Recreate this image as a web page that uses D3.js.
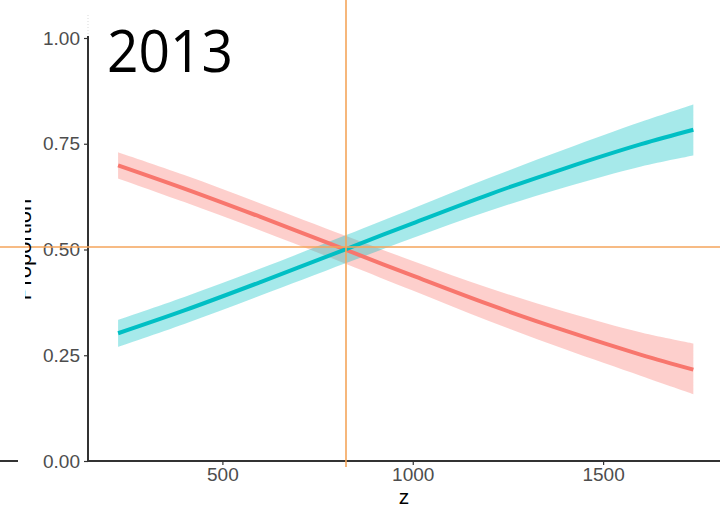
<!DOCTYPE html>
<html>
<head>
<meta charset="utf-8">
<script src="https://cdn.jsdelivr.net/npm/d3@7"></script>
<style>
  html, body { margin: 0; padding: 0; background: #fff; }
  svg { display: block; }
</style>
</head>
<body>
<svg id="chart" width="720" height="508"></svg>
<script>
// Predicted proportions with confidence ribbons for two groups along z
const zValues   = [226, 400, 600, 825, 1000, 1200, 1400, 1600, 1737];

const tealFit   = [0.302, 0.356, 0.423, 0.501, 0.562, 0.630, 0.692, 0.749, 0.783];
const tealLower = [0.270, 0.324, 0.391, 0.468, 0.527, 0.591, 0.647, 0.696, 0.722];
const tealUpper = [0.334, 0.388, 0.455, 0.534, 0.597, 0.669, 0.737, 0.802, 0.843];

const redFit    = [0.699, 0.644, 0.577, 0.499, 0.438, 0.370, 0.308, 0.251, 0.216];
const redLower  = [0.668, 0.612, 0.545, 0.466, 0.403, 0.331, 0.264, 0.201, 0.158];
const redUpper  = [0.730, 0.676, 0.609, 0.532, 0.473, 0.409, 0.353, 0.304, 0.278];

const yTicks = [0, 0.25, 0.5, 0.75, 1];
const yTickLabels = ["0.00", "0.25", "0.50", "0.75", "1.00"];
const xTicks = [500, 1000, 1500];

const refZ = 825;      // vertical reference line
const refP = 0.505;    // horizontal reference line
const panelTitle = "2013";

(function draw() {
  const svg = d3.select("#chart");
  const W = 720, H = 508;
  const mLeft = 88, mRight = 720, mTop = 38, mBottom = 461;

  const x = d3.scaleLinear().domain([147, 1807]).range([mLeft, mRight]);
  const y = d3.scaleLinear().domain([0, 1]).range([mBottom, mTop]);

  const series = [
    { fit: redFit,  lo: redLower,  hi: redUpper,  color: "#F8766D" },
    { fit: tealFit, lo: tealLower, hi: tealUpper, color: "#00BFC4" }
  ];

  const curve = d3.curveCatmullRom.alpha(0.5);
  const area = d3.area()
    .x(d => x(d.z)).y0(d => y(d.lo)).y1(d => y(d.hi))
    .curve(curve);
  const line = d3.line()
    .x(d => x(d.z)).y(d => y(d.v))
    .curve(curve);

  // ribbons
  series.forEach(s => {
    const rows = zValues.map((z, i) => ({ z, lo: s.lo[i], hi: s.hi[i] }));
    svg.append("path").datum(rows)
      .attr("d", area)
      .attr("fill", s.color)
      .attr("fill-opacity", 0.35);
  });

  // fitted lines
  series.forEach(s => {
    const rows = zValues.map((z, i) => ({ z, v: s.fit[i] }));
    svg.append("path").datum(rows)
      .attr("d", line)
      .attr("fill", "none")
      .attr("stroke", s.color)
      .attr("stroke-width", 4);
  });

  // axes
  const axisColor = "#333333";
  const yAxis = svg.append("g")
    .attr("transform", `translate(${mLeft},0)`)
    .call(d3.axisLeft(y).tickValues(yTicks)
      .tickFormat((d, i) => yTickLabels[i]).tickSize(4).tickPadding(4));
  const xAxis = svg.append("g")
    .attr("transform", `translate(0,${mBottom})`)
    .call(d3.axisBottom(x).tickValues(xTicks).tickFormat(d3.format("d"))
      .tickSize(4).tickPadding(3));

  [yAxis, xAxis].forEach(g => {
    g.select(".domain").remove();
    g.selectAll(".tick line").attr("stroke", axisColor).attr("stroke-width", 1.2);
    g.selectAll(".tick text")
      .attr("fill", "#4D4D4D")
      .style("font-family", "'Liberation Sans', Arial, sans-serif")
      .style("font-size", "19px");
  });

  // axis lines
  svg.append("line")
    .attr("x1", mLeft).attr("x2", mLeft).attr("y1", 15).attr("y2", 36)
    .attr("stroke", "#d9d9d9").attr("stroke-width", 1).attr("stroke-dasharray", "1,2");
  svg.append("line")
    .attr("x1", mLeft).attr("x2", mLeft).attr("y1", 36).attr("y2", mBottom + 1)
    .attr("stroke", axisColor).attr("stroke-width", 2);
  svg.append("line")
    .attr("x1", mLeft).attr("x2", mRight).attr("y1", mBottom).attr("y2", mBottom)
    .attr("stroke", axisColor).attr("stroke-width", 2);
  // neighbouring panel's baseline at the far left
  svg.append("line")
    .attr("x1", 0).attr("x2", 18).attr("y1", mBottom).attr("y2", mBottom)
    .attr("stroke", axisColor).attr("stroke-width", 2);

  // reference lines
  const vx = Math.round(x(refZ));
  const hy = Math.round(y(refP));
  svg.append("line")
    .attr("x1", vx).attr("x2", vx).attr("y1", 0).attr("y2", 467)
    .attr("stroke", "#F4A55B").attr("stroke-width", 1.6);
  svg.append("line")
    .attr("x1", 0).attr("x2", W).attr("y1", hy).attr("y2", hy)
    .attr("stroke", "#F4A55B").attr("stroke-width", 1.6);

  // axis titles
  svg.append("defs").append("clipPath").attr("id", "ylabClip")
    .append("rect").attr("x", 25).attr("y", 0).attr("width", 60).attr("height", H);
  svg.append("g").attr("clip-path", "url(#ylabClip)")
    .append("text")
    .attr("transform", `translate(31,${(mTop + mBottom) / 2}) rotate(-90)`)
    .attr("text-anchor", "middle")
    .style("font-family", "'Liberation Sans', Arial, sans-serif")
    .style("font-size", "22px")
    .attr("fill", "#000")
    .text("Proportion");

  svg.append("text")
    .attr("x", (mLeft + mRight) / 2).attr("y", 504)
    .attr("text-anchor", "middle")
    .style("font-family", "'Liberation Sans', Arial, sans-serif")
    .style("font-size", "21px")
    .attr("fill", "#000")
    .text("z");

  // panel title
  svg.append("text")
    .attr("x", 107).attr("y", 72)
    .attr("textLength", 126).attr("lengthAdjust", "spacingAndGlyphs")
    .style("font-family", "'Open Sans', 'Liberation Sans', sans-serif")
    .style("font-size", "58px")
    .attr("fill", "#000")
    .text(panelTitle);
})();
</script>
</body>
</html>
